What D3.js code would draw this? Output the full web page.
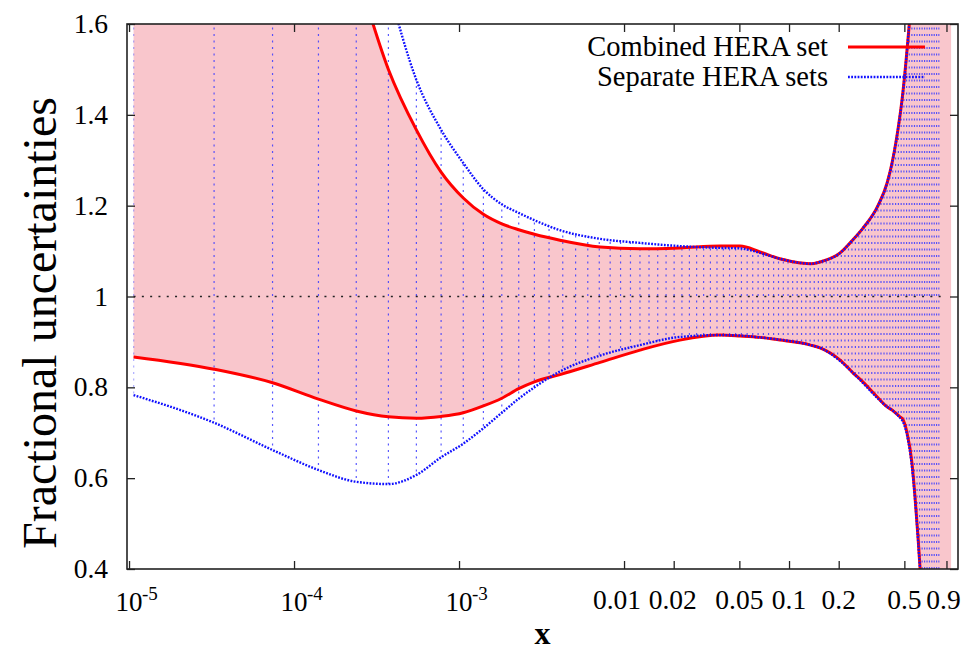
<!DOCTYPE html>
<html>
<head>
<meta charset="utf-8">
<script src="https://cdn.jsdelivr.net/npm/d3@7"></script>
<style>
  body { margin: 0; background: #fff; }
  text { font-family: "Liberation Serif", "Times New Roman", serif; fill: #000; }
</style>
</head>
<body>
<div id="chart"></div>
<script>
// x grid of the separate-sets band (one vertical hatch line per point)
var gridX = [1.065e-5, 3.277e-5, 7.409e-5, 1.406e-4, 2.383e-4, 3.732e-4, 5.514e-4, 7.787e-4,
  1.061e-3, 1.405e-3, 1.816e-3, 2.300e-3, 2.863e-3, 3.512e-3, 4.252e-3, 5.088e-3, 6.029e-3,
  7.078e-3, 8.242e-3, 9.528e-3, 0.01094, 0.01249, 0.01417, 0.01600, 0.01798, 0.02012, 0.02243,
  0.02490, 0.02754, 0.03037, 0.03339, 0.03659, 0.04000, 0.04361, 0.04744, 0.05148, 0.05574,
  0.06024, 0.06496, 0.06993, 0.07515, 0.08062, 0.08635, 0.09235, 0.09861, 0.1052, 0.1120,
  0.1191, 0.1265, 0.1342, 0.1422, 0.1506, 0.1592, 0.1682, 0.1775, 0.1871, 0.1971, 0.2075,
  0.2182, 0.2292, 0.2406, 0.2524, 0.2646, 0.2772, 0.2901, 0.3035, 0.3172, 0.3314, 0.3459,
  0.3609, 0.3764, 0.3922, 0.4085, 0.4253, 0.4425, 0.4601, 0.4782, 0.4968, 0.5158, 0.5354,
  0.5554, 0.5759, 0.5969, 0.6185, 0.6405, 0.6631, 0.6861, 0.7097, 0.7339, 0.7586, 0.7838, 0.8096];

// Separate HERA sets: band edges
var sepX = [1.065e-5, 3.277e-5, 7.409e-5, 1.406e-4, 2.383e-4, 3.732e-4, 5.514e-4, 7.787e-4,
  1.061e-3, 1.405e-3, 1.816e-3, 2.300e-3, 2.863e-3, 4.09e-3, 7.16e-3, 0.0125, 0.0218, 0.0382,
  0.0505, 0.0667, 0.088, 0.117, 0.135, 0.154, 0.204, 0.244, 0.28, 0.346, 0.393, 0.421, 0.471,
  0.484, 0.519, 0.556, 0.580, 0.605, 0.622, 0.66, 0.72, 0.82];
var sepLow = [0.783, 0.722, 0.662, 0.618, 0.592, 0.587, 0.607, 0.646,
  0.676, 0.710, 0.744, 0.775, 0.800, 0.835, 0.870, 0.893, 0.911, 0.915,
  0.914, 0.910, 0.905, 0.898, 0.893, 0.887, 0.858, 0.832, 0.810, 0.775, 0.757, 0.750, 0.733,
  0.728, 0.695, 0.625, 0.555, 0.465, 0.400, 0.25, 0.0, -0.5];
var sepHigh = [3.2, 2.9, 2.6, 2.25, 1.95, 1.68, 1.477, 1.367,
  1.294, 1.236, 1.203, 1.184, 1.168, 1.146, 1.127, 1.118, 1.111, 1.107,
  1.106, 1.096, 1.083, 1.074, 1.072, 1.076, 1.096, 1.125, 1.15, 1.20, 1.25, 1.294, 1.40,
  1.433, 1.543, 1.68, 1.80, 1.95, 2.05, 2.3, 2.7, 3.2];

// Combined HERA set: band edges
var comX = [1.065e-5, 3.277e-5, 7.409e-5, 1.406e-4, 2.383e-4, 3.732e-4, 5.514e-4, 7.787e-4,
  1.061e-3, 1.405e-3, 1.816e-3, 2.300e-3, 2.863e-3, 4.09e-3, 7.16e-3, 0.0125, 0.0218, 0.0382,
  0.0505, 0.0667, 0.088, 0.117, 0.135, 0.154, 0.204, 0.244, 0.28, 0.346, 0.393, 0.421, 0.471,
  0.484, 0.519, 0.556, 0.580, 0.605, 0.622, 0.66, 0.72, 0.82, 0.96];
var comLow = [0.867, 0.840, 0.810, 0.774, 0.748, 0.735, 0.732, 0.736,
  0.744, 0.759, 0.776, 0.797, 0.812, 0.828, 0.855, 0.882, 0.904, 0.915,
  0.913, 0.910, 0.904, 0.898, 0.893, 0.887, 0.860, 0.832, 0.812, 0.777, 0.757, 0.750, 0.735,
  0.732, 0.700, 0.633, 0.559, 0.470, 0.404, 0.25, 0.0, -0.5, -1.0];
var comHigh = [3.2, 2.7, 2.3, 2.0, 1.72, 1.50, 1.367, 1.274,
  1.217, 1.181, 1.160, 1.147, 1.137, 1.124, 1.109, 1.105, 1.107, 1.111,
  1.111, 1.098, 1.083, 1.074, 1.072, 1.076, 1.096, 1.125, 1.15, 1.20, 1.25, 1.294, 1.40,
  1.433, 1.543, 1.68, 1.80, 1.95, 2.05, 2.3, 2.7, 3.2, 3.6];

var refLineX = [1.065e-5, 0.88];
var refLineY = 1;

var xTicks = [1e-5, 1e-4, 1e-3, 0.01, 0.02, 0.05, 0.1, 0.2, 0.5, 0.9];
var xPowerTicks = [1e-5, 1e-4, 1e-3];
var xPowerLabels = ["-5", "-4", "-3"];
var xPlainTicks = [0.01, 0.02, 0.05, 0.1, 0.2, 0.5, 0.9];
var xPlainLabels = ["0.01", "0.02", "0.05", "0.1", "0.2", "0.5", "0.9"];
var yTicks = [0.4, 0.6, 0.8, 1.0, 1.2, 1.4, 1.6];
var yTickLabels = ["0.4", "0.6", "0.8", "1", "1.2", "1.4", "1.6"];
var xDomain = [9.72e-6, 1.057];
var yDomain = [0.4, 1.6];
var seriesNames = ["Combined HERA set", "Separate HERA sets"];

var width = 966, height = 652;
var margin = {left: 127, right: 8, top: 24, bottom: 83};
var serif = '"Liberation Serif", "Times New Roman", serif';
// small horizontal nudges of crowded tick labels (layout only)
var labelNudge = {"0.01": -7, "0.02": -1, "0.9": -3};

var x = d3.scaleLog().domain(xDomain).range([margin.left, width - margin.right]);
var y = d3.scaleLinear().domain(yDomain).range([height - margin.bottom, margin.top]);

var sepData = sepX.map(function(v, i) { return {x: v, lo: sepLow[i], hi: sepHigh[i]}; });
var comData = comX.map(function(v, i) { return {x: v, lo: comLow[i], hi: comHigh[i]}; });

var svg = d3.select('#chart').append('svg')
  .attr('width', width).attr('height', height);

var defs = svg.append('defs');
defs.append('clipPath').attr('id', 'frame').append('rect')
  .attr('x', x.range()[0]).attr('y', y.range()[1])
  .attr('width', x.range()[1] - x.range()[0])
  .attr('height', y.range()[0] - y.range()[1]);

var bandArea = d3.area()
  .x(function(d) { return x(d.x); })
  .y0(function(d) { return y(d.lo); })
  .y1(function(d) { return y(d.hi); })
  .curve(d3.curveMonotoneX);

defs.append('clipPath').attr('id', 'sepband').append('path')
  .datum(sepData).attr('d', bandArea);

var plot = svg.append('g').attr('clip-path', 'url(#frame)');

// combined band fill
plot.append('path').datum(comData)
  .attr('d', bandArea)
  .attr('fill', '#f9c6cc');

// separate band hatch
plot.append('g').attr('clip-path', 'url(#sepband)')
  .selectAll('line').data(gridX).enter().append('line')
  .attr('x1', function(d) { return x(d); })
  .attr('x2', function(d) { return x(d); })
  .attr('y1', y(yDomain[0]))
  .attr('y2', y(yDomain[1]))
  .attr('stroke', '#3c3cff')
  .attr('stroke-opacity', 0.85)
  .attr('stroke-width', 1.2)
  .attr('stroke-dasharray', '2,4.5');

// y = 1 reference
plot.append('line')
  .attr('x1', x(refLineX[0])).attr('x2', x(refLineX[1]))
  .attr('y1', y(refLineY)).attr('y2', y(refLineY))
  .attr('stroke', '#222').attr('stroke-width', 1.6)
  .attr('stroke-dasharray', '2,6.3');

// band edges
var lineLo = d3.line().x(function(d) { return x(d.x); }).y(function(d) { return y(d.lo); }).curve(d3.curveMonotoneX);
var lineHi = d3.line().x(function(d) { return x(d.x); }).y(function(d) { return y(d.hi); }).curve(d3.curveMonotoneX);

[lineLo, lineHi].forEach(function(l) {
  plot.append('path').datum(comData).attr('d', l)
    .attr('fill', 'none').attr('stroke', '#ff0000').attr('stroke-width', 3);
});
[lineLo, lineHi].forEach(function(l) {
  plot.append('path').datum(sepData).attr('d', l)
    .attr('fill', 'none').attr('stroke', '#1010ff').attr('stroke-width', 2.4)
    .attr('stroke-dasharray', '1.8,1.4');
});

// axes: inward ticks on all four sides
var axB = d3.axisBottom(x).tickValues(xTicks).tickSizeInner(-8).tickSizeOuter(0).tickFormat('');
var axT = d3.axisTop(x).tickValues(xTicks).tickSizeInner(-8).tickSizeOuter(0).tickFormat('');
var axL = d3.axisLeft(y).tickValues(yTicks).tickSizeInner(-8).tickSizeOuter(0).tickFormat('');
var axR = d3.axisRight(y).tickValues(yTicks).tickSizeInner(-8).tickSizeOuter(0).tickFormat('');
svg.append('g').attr('transform', 'translate(0,' + y.range()[0] + ')').call(axB);
svg.append('g').attr('transform', 'translate(0,' + y.range()[1] + ')').call(axT);
svg.append('g').attr('transform', 'translate(' + x.range()[0] + ',0)').call(axL);
svg.append('g').attr('transform', 'translate(' + x.range()[1] + ',0)').call(axR);
svg.selectAll('.domain').remove();
svg.selectAll('.tick line').attr('stroke', '#222').attr('stroke-width', 1.3);

svg.append('rect')
  .attr('x', x.range()[0]).attr('y', y.range()[1])
  .attr('width', x.range()[1] - x.range()[0])
  .attr('height', y.range()[0] - y.range()[1])
  .attr('fill', 'none').attr('stroke', '#222').attr('stroke-width', 1.6);

// tick labels
svg.selectAll('.ylab').data(yTicks).enter().append('text')
  .attr('x', x.range()[0] - 19)
  .attr('y', function(d) { return y(d) + 9; })
  .attr('text-anchor', 'end')
  .style('font-family', serif).style('font-size', '27.5px')
  .text(function(d, i) { return yTickLabels[i]; });

svg.selectAll('.xlab').data(xPlainTicks).enter().append('text')
  .attr('x', function(d, i) { return x(d) + (labelNudge[xPlainLabels[i]] || 0); })
  .attr('y', y.range()[0] + 40)
  .attr('text-anchor', 'middle')
  .style('font-family', serif).style('font-size', '27.5px')
  .text(function(d, i) { return xPlainLabels[i]; });

xPowerTicks.forEach(function(d, i) {
  svg.append('text')
    .attr('x', x(d)).attr('y', y.range()[0] + 42)
    .attr('text-anchor', 'middle')
    .style('font-family', serif).style('font-size', '27px')
    .text('10');
  svg.append('text')
    .attr('x', x(d) + 13).attr('y', y.range()[0] + 31)
    .style('font-family', serif).style('font-size', '19px')
    .text(xPowerLabels[i]);
});

// axis titles
svg.append('text')
  .attr('x', (x.range()[0] + x.range()[1]) / 2)
  .attr('y', 644)
  .attr('text-anchor', 'middle')
  .style('font-family', serif).style('font-size', '32px').style('font-weight', 'bold')
  .text('x');
svg.append('text')
  .attr('transform', 'translate(56,323) rotate(-90)')
  .attr('text-anchor', 'middle')
  .style('font-family', serif).style('font-size', '48px')
  .text('Fractional uncertainties');

// legend
var legend = svg.append('g');
legend.append('text').attr('x', 828).attr('y', 56).attr('text-anchor', 'end')
  .style('font-family', serif).style('font-size', '28.5px').text(seriesNames[0]);
legend.append('text').attr('x', 828).attr('y', 86).attr('text-anchor', 'end')
  .style('font-family', serif).style('font-size', '28.5px').text(seriesNames[1]);
legend.append('line').attr('x1', 848).attr('x2', 925).attr('y1', 47).attr('y2', 47)
  .attr('stroke', '#ff0000').attr('stroke-width', 3);
legend.append('line').attr('x1', 848).attr('x2', 925).attr('y1', 77).attr('y2', 77)
  .attr('stroke', '#1010ff').attr('stroke-width', 2.4).attr('stroke-dasharray', '1.8,1.4');
</script>
</body>
</html>
